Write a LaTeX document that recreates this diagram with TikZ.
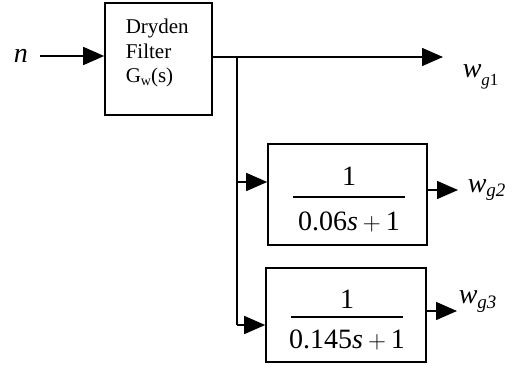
\documentclass[tikz,border=0pt]{standalone}
\usepackage{fontspec}
\setmainfont{Liberation Serif}
\usetikzlibrary{arrows.meta,calc}

\newcommand{\fs}[1]{\fontsize{#1}{#1}\selectfont}

\begin{document}
\begin{tikzpicture}[x=1pt,y=-1pt,
  line width=1.5pt,
  blockbox/.style={draw, line width=1.6pt, inner sep=0pt, fill=white},
  arr/.style={-{Triangle[length=21pt,width=18pt]}},
  fracnum/.style={inner sep=0pt, anchor=base, font=\fs{28}},
  fracbar/.style={line width=1.2pt},
  sig/.style={inner sep=0pt, anchor=base west, font=\fs{28}},
  txt/.style={inner sep=0pt, anchor=base west, font=\fs{21}}
]
\useasboundingbox (0,0) rectangle (513,369);

% --- blocks ---
\node[blockbox, minimum width=107pt, minimum height=112pt] (b1) at (158.5,59) {};
\node[blockbox, minimum width=159pt, minimum height=101pt] (b2) at (347.5,194.5) {};
\node[blockbox, minimum width=160pt, minimum height=94pt] (b3) at (346,315) {};

% filter block text
\node[txt] (t1) at (125,34) {Dryden};
\node[txt] (t2) at (125,58) {Filter};
\node[txt] (t3) at (125,82) {G\raisebox{-3pt}{\fs{14}w}(s)};

% transfer functions
\node[fracnum] (num2) at (349,185) {1};
\draw[fracbar] (293,197) -- (405,197);
\node[fracnum] (den2) at (349,230) {0.06\textit{s}\hspace{5pt}$+$\hspace{5pt}1};

\node[fracnum] (num3) at (347,308) {1};
\draw[fracbar] (291,317) -- (403,317);
\node[fracnum] (den3) at (347,348) {0.145\textit{s}\hspace{5pt}$+$\hspace{5pt}1};

% --- signal labels ---
\node[sig] (nlab) at (13,63) {\textit{n}};
\node[sig] (wg1) at (462,77) {\textit{w}\raisebox{-8pt}{\fs{17}\textit{g}1}};
\node[sig] (wg2) at (467,192) {\textit{w}\raisebox{-4pt}{\fs{19}\textit{g2}}};
\node[sig] (wg3) at (458,303) {\textit{w}\raisebox{-5pt}{\fs{19}\textit{g3}}};

% --- connection points ---
\coordinate (nin) at (40,56);
\coordinate (split) at (237,57);
\coordinate (o1) at (443,57);
\coordinate (j2) at (237,182);
\coordinate (j3) at (237,325);
\coordinate (o2) at (458,190);
\coordinate (o3) at (457,311);

% --- connectors ---
\draw[arr] (nin) -- (nin -| b1.west);
\draw[arr] (b1.east |- split) -- (o1);
\draw (split) -- (j3);
\draw[arr] (j2) -- (j2 -| b2.west);
\draw[arr] (j3) -- (j3 -| b3.west);
\draw[arr] (o2 -| b2.east) -- (o2);
\draw[arr] (o3 -| b3.east) -- (o3);
\end{tikzpicture}
\end{document}
